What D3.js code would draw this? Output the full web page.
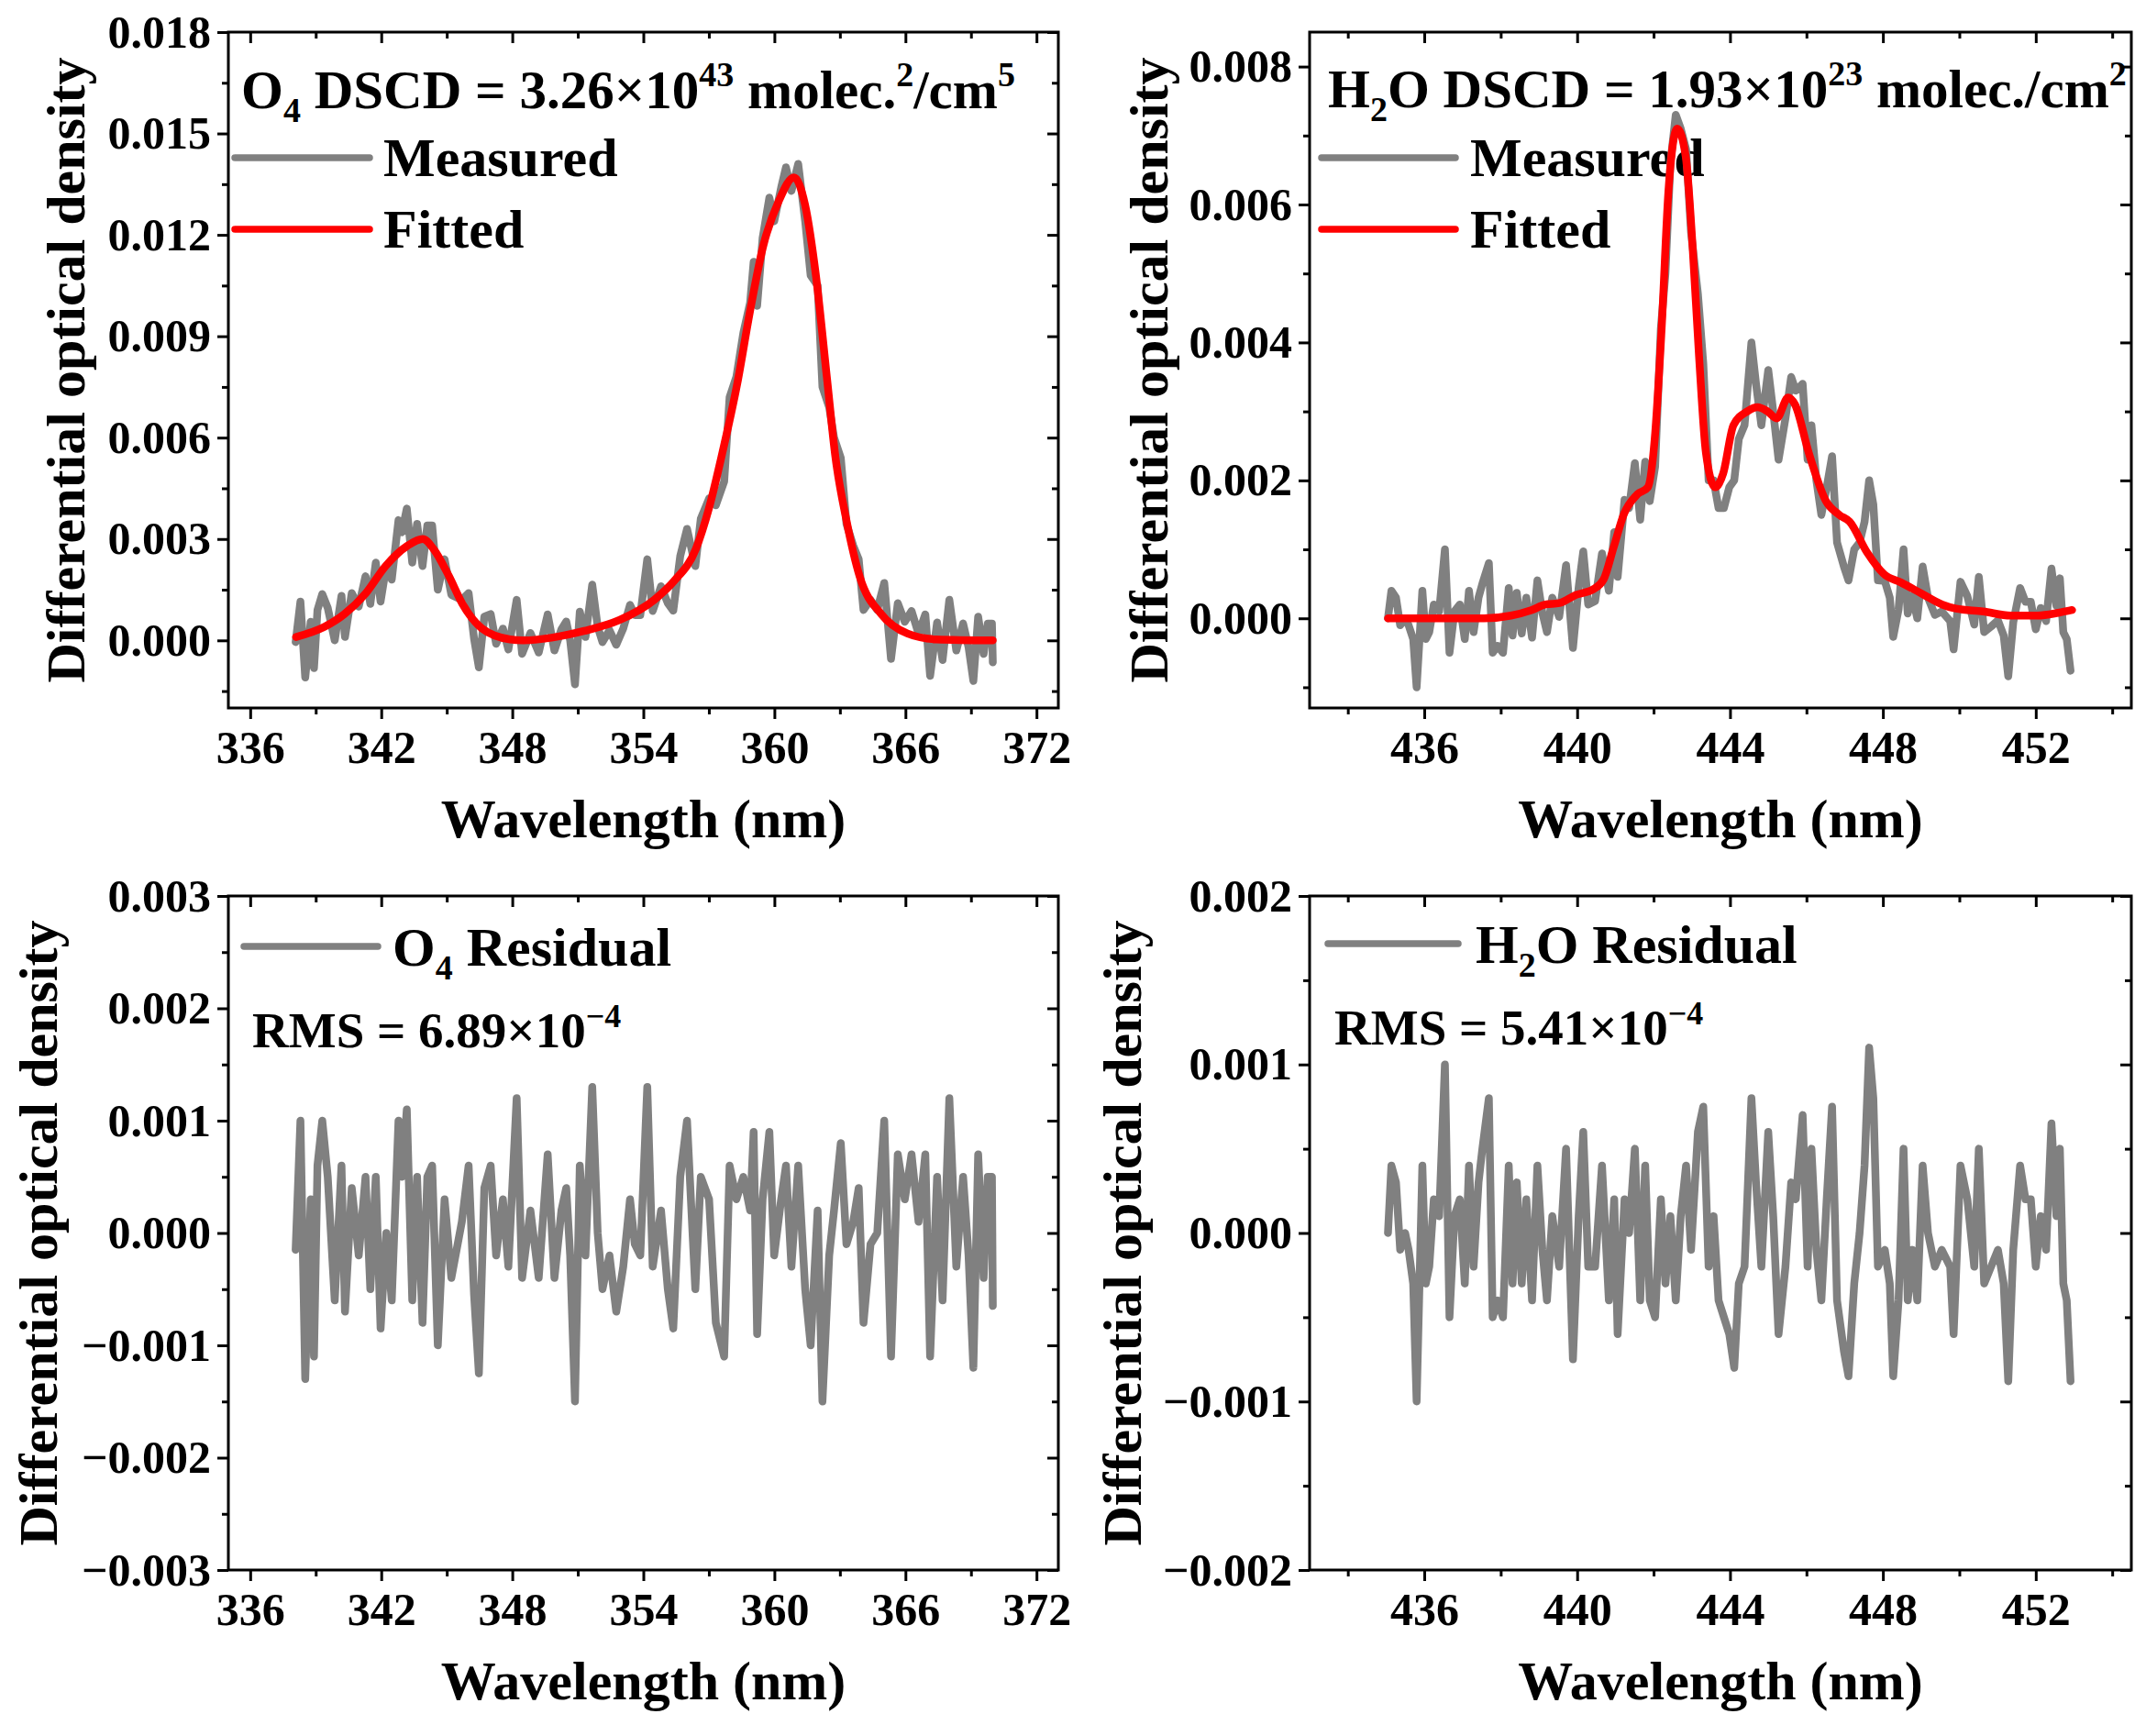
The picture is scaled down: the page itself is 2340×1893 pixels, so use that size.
<!DOCTYPE html>
<html><head><meta charset="utf-8">
<script src="https://cdn.jsdelivr.net/npm/d3@7"></script>
<style>body{margin:0;background:#fff}</style>
</head><body><svg id="c" width="2340" height="1893" style="background:#fff"></svg>
<script>
// ---------- O4 window ----------
const o4Wavelength = [338.08,338.30,338.52,338.77,338.92,339.08,339.30,339.55,339.87,340.18,
340.34,340.65,340.97,341.28,341.50,341.75,341.97,342.23,342.48,342.79,
342.95,343.17,343.42,343.64,343.89,344.11,344.33,344.59,344.90,345.21,
345.69,346.00,346.25,346.47,346.72,347.01,347.26,347.57,347.82,348.20,
348.45,348.83,349.21,349.62,349.93,350.25,350.47,350.65,350.87,351.09,
351.35,351.66,351.91,352.13,352.45,352.76,353.08,353.39,353.61,353.86,
354.18,354.43,354.81,355.12,355.37,355.69,356.00,356.38,356.63,357.01,
357.32,357.70,357.95,358.26,358.58,358.89,359.05,359.21,359.46,359.77,
359.99,360.31,360.53,360.78,361.09,361.41,361.66,361.98,362.20,362.51,
362.73,363.04,363.30,363.61,363.86,364.08,364.40,364.71,365.03,365.34,
365.65,365.97,366.28,366.60,366.91,367.13,367.45,367.70,368.01,368.33,
368.64,368.89,369.11,369.33,369.58,369.77,369.96,370.00];
const o4Measured = [-0.00005,0.00115,-0.0011,0.00055,-0.00082,0.0009,0.00137,0.00096,0.0000,0.00132,
0.0001,0.0014,0.0010,0.0019,0.00108,0.0023,0.00115,0.0022,0.0018,0.00356,
0.0032,0.0039,0.0023,0.00345,0.0022,0.0034,0.0034,0.0015,0.0024,0.00135,
0.0012,0.0014,0.00005,-0.0008,0.0007,0.00078,-0.0001,0.00035,-0.00027,0.0012,
-0.0004,0.00022,-0.00036,0.00077,-0.0003,0.00033,0.00056,0.0000,-0.0013,0.00085,
0.0001,0.00165,0.0004,-0.00005,0.0003,-0.00013,0.00035,0.00105,0.00075,0.00075,
0.0024,0.00087,0.0016,0.0011,0.00088,0.0025,0.0033,0.0022,0.0036,0.0042,
0.0040,0.0047,0.0072,0.0078,0.0091,0.0100,0.0112,0.0099,0.0119,0.0131,
0.0124,0.0134,0.0140,0.0133,0.0141,0.0124,0.0108,0.0105,0.0075,0.0069,
0.0060,0.0054,0.00345,0.0028,0.0024,0.0009,0.0012,0.0009,0.0017,-0.00055,
0.0011,0.00055,0.00087,0.0002,0.00077,-0.00105,0.00053,-0.00058,0.0012,-0.0003,
0.0005,-0.0002,-0.0012,0.0007,-0.0004,0.0005,0.0005,-0.00065];
const o4Residual = [-0.00015,0.0010,-0.0013,0.0003,-0.0011,0.0006,0.0010,0.0005,-0.0006,0.0006,
-0.0007,0.0004,-0.0002,0.0005,-0.0005,0.0005,-0.00085,0.0000,-0.0006,0.0010,
0.0005,0.0011,-0.0006,0.0005,-0.0008,0.0005,0.0006,-0.0010,0.0003,-0.0004,
0.0001,0.0006,-0.00055,-0.00125,0.0004,0.0006,-0.0002,0.0003,-0.0003,0.0012,
-0.0004,0.0002,-0.0004,0.0007,-0.0004,0.0002,0.0004,-0.0002,-0.0015,0.0006,
-0.0002,0.0013,0.0000,-0.0005,-0.0002,-0.0007,-0.0003,0.0003,-0.0001,-0.0002,
0.0013,-0.0003,0.0002,-0.0005,-0.00085,0.0005,0.0010,-0.0005,0.0005,0.0003,
-0.0008,-0.0011,0.0006,0.0003,0.0005,0.0002,0.0009,-0.0009,0.0003,0.0009,
-0.0002,0.0003,0.0006,-0.0003,0.0006,-0.0005,-0.0010,0.0002,-0.0015,-0.0002,
0.0002,0.0008,-0.0001,0.0001,0.0004,-0.0008,-0.0001,0.0000,0.0010,-0.0011,
0.0007,0.0003,0.0007,0.0001,0.0007,-0.0011,0.0005,-0.0006,0.0012,-0.0003,
0.0005,-0.0002,-0.0012,0.0007,-0.0004,0.0005,0.0005,-0.00065];
const o4FitWavelength = [338.1,339.4,340.3,341.3,342.2,343.2,343.9,344.4,345.1,345.7,
346.6,347.9,348.5,349.8,351.3,352.9,354.5,355.4,356.4,357.0,
357.6,358.3,358.9,359.5,360.2,360.9,361.4,361.9,362.4,362.8,
363.3,363.9,364.9,366.1,367.4,370.0];
const o4Fitted = [0.0001,0.0004,0.00077,0.0014,0.0022,0.0028,0.0030,0.0027,0.0019,0.0011,
0.00036,0.00003,0.0,0.00008,0.00028,0.0006,0.0012,0.00175,0.0027,0.0039,
0.0055,0.0076,0.0098,0.0117,0.0130,0.0137,0.0129,0.0108,0.0078,0.0054,
0.00355,0.0019,0.00077,0.0002,0.00003,0.0];

// ---------- H2O window ----------
const h2oWavelength = [435.05,435.14,435.26,435.37,435.50,435.59,435.71,435.80,435.95,436.04,
436.13,436.25,436.39,436.54,436.66,436.79,436.93,437.06,437.17,437.29,
437.42,437.52,437.69,437.79,437.92,438.06,438.21,438.31,438.42,438.55,
438.67,438.82,438.96,439.09,439.21,439.35,439.53,439.71,439.89,440.04,
440.16,440.29,440.47,440.65,440.83,440.97,441.06,441.24,441.36,441.51,
441.65,441.78,441.90,442.04,442.19,442.31,442.44,442.58,442.71,442.85,
442.98,443.16,443.30,443.44,443.57,443.70,443.84,443.98,444.11,444.23,
444.38,444.56,444.68,444.82,445.00,445.13,445.27,445.45,445.60,445.72,
445.90,446.03,446.13,446.26,446.39,446.53,446.67,446.80,446.98,447.10,
447.25,447.39,447.52,447.64,447.75,447.87,448.05,448.18,448.27,448.41,
448.54,448.65,448.77,448.90,449.04,449.18,449.36,449.54,449.76,449.85,
450.03,450.21,450.39,450.51,450.65,450.83,451.01,451.16,451.28,451.41,
451.59,451.73,451.87,452.00,452.13,452.27,452.41,452.54,452.63,452.72,
452.81,452.91];
const h2oMeasured = [0,0.0004,0.0003,-0.0001,0,-0.0001,-0.0003,-0.0010,0.0004,-0.0003,
-0.0002,0.0002,0.0001,0.0010,-0.0005,0.0001,0.0002,-0.0003,0.0004,-0.0002,
0.0003,0.0005,0.0008,-0.0005,-0.0004,-0.0005,0.00044,-0.00025,0.00037,-0.00022,
0.0003,-0.00028,0.00055,0.00008,-0.0002,0.0003,0.00002,0.00077,-0.00043,0.00045,
0.00097,0.0002,0.00025,0.00094,0.0004,0.00125,0.0006,0.00172,0.0016,0.00225,
0.00143,0.00227,0.0017,0.0022,0.0042,0.0050,0.0066,0.0073,0.0071,0.0068,
0.0056,0.0047,0.0037,0.0020,0.0020,0.0016,0.0016,0.0019,0.0020,0.0026,
0.0028,0.0040,0.0034,0.0028,0.0036,0.0030,0.0023,0.0029,0.0035,0.0033,
0.0034,0.0023,0.0028,0.0020,0.0015,0.0019,0.00235,0.0011,0.00075,0.00055,
0.0010,0.0011,0.0014,0.0020,0.00165,0.00055,0.00054,0.0003,-0.00027,0.00013,
0.0010,0.00007,0.00033,0.0,0.00075,0.0003,0.00005,0.0001,-0.00004,-0.00045,
0.00053,0.00032,-0.00009,0.0006,-0.0002,-0.00012,-0.00003,-0.00025,-0.00084,-0.00006,
0.00044,0.00024,0.00024,-0.00016,0.00015,-0.00004,0.00072,0.00018,0.00058,-0.0002,
-0.0003,-0.00076];
const h2oResidual = [0,0.0004,0.0003,-0.0001,0,-0.0001,-0.0003,-0.0010,0.0004,-0.0003,
-0.0002,0.0002,0.0001,0.0010,-0.0005,0.0001,0.0002,-0.0003,0.0004,-0.0002,
0.0003,0.0005,0.0008,-0.0005,-0.0004,-0.0005,0.0004,-0.0003,0.0003,-0.0003,
0.0002,-0.0004,0.0004,-0.0001,-0.0004,0.0001,-0.0002,0.0005,-0.00075,0.0001,
0.0006,-0.0002,-0.0002,0.0004,-0.0004,0.0002,-0.0006,0.0002,0.0000,0.0005,
-0.0004,0.0004,-0.0004,-0.0005,0.0002,-0.0003,0.0001,-0.0004,0.0001,0.0004,
-0.0001,0.0006,0.00075,-0.0002,0.0001,-0.0004,-0.0005,-0.0006,-0.0008,-0.0003,
-0.0002,0.0008,0.0003,-0.0002,0.0006,0.0001,-0.0006,-0.0002,0.0003,0.0002,
0.0007,-0.0002,0.0005,-0.0001,-0.0004,0.0002,0.00075,-0.0004,-0.0007,-0.00085,
-0.0003,0.0000,0.0004,0.0011,0.0008,-0.0002,-0.0001,-0.0003,-0.00085,-0.0004,
0.0005,-0.0004,-0.0001,-0.0004,0.0004,0.0000,-0.0002,-0.0001,-0.0002,-0.0006,
0.0004,0.0002,-0.0002,0.0005,-0.0003,-0.0002,-0.0001,-0.0003,-0.00088,-0.0001,
0.0004,0.0002,0.0002,-0.0002,0.0001,-0.0001,0.00065,0.0001,0.0005,-0.0003,
-0.0004,-0.00088];
const h2oFitWavelength = [435.05,437.56,438.27,438.81,439.17,439.53,439.97,440.42,440.69,440.96,
441.23,441.58,441.85,442.03,442.21,442.39,442.62,442.84,443.02,443.19,
443.37,443.61,443.82,444.09,444.45,444.72,444.98,445.22,445.52,445.70,
446.06,446.51,446.86,447.13,447.58,448.03,448.47,449.01,449.55,449.91,
450.62,451.34,452.05,452.59,452.95];
const h2oFitted = [0,0,0.00004,0.00012,0.0002,0.00022,0.00034,0.00042,0.00056,0.00104,
0.00152,0.0018,0.0019,0.0026,0.0042,0.0062,0.0071,0.0067,0.0054,0.0038,
0.0024,0.0019,0.0021,0.0028,0.0030,0.00306,0.0030,0.0029,0.0032,0.0031,
0.0024,0.0017,0.0015,0.0014,0.00096,0.00064,0.00052,0.00036,0.0002,0.00014,
0.0001,0.00004,0.00004,0.00008,0.00012];

// ---------- ticks ----------
const o4XTicks = [336,342,348,354,360,366,372];
const o4XMinor = [339,345,351,357,363,369];
const h2oXTicks = [436,440,444,448,452];
const h2oXMinor = [434,438,442,446,450,454];
const o4YTicks = [0,0.003,0.006,0.009,0.012,0.015,0.018];
const o4YMinor = [-0.0015,0.0015,0.0045,0.0075,0.0105,0.0135,0.0165];
const h2oYTicks = [0,0.002,0.004,0.006,0.008];
const h2oYMinor = [-0.001,0.001,0.003,0.005,0.007];
const o4ResYTicks = [-0.003,-0.002,-0.001,0,0.001,0.002,0.003];
const o4ResYMinor = [-0.0025,-0.0015,-0.0005,0.0005,0.0015,0.0025];
const h2oResYTicks = [-0.002,-0.001,0,0.001,0.002];
const h2oResYMinor = [-0.0015,-0.0005,0.0005,0.0015];

const GRAY = '#808080', RED = '#ff0000';
const FONT = '"Liberation Serif","Times New Roman",serif';
const DATA_W = 8.5, LEGEND_W = 7.5;
const svg = d3.select('#c');
svg.append('rect').attr('width',2340).attr('height',1893).attr('fill','#fff');

function fmt(v){
  const s = Math.abs(v).toFixed(3);
  return (v < -1e-12 ? '\u2212' : '') + s;
}

function rich(g, x, y, parts, size, small){
  const t = g.append('text').attr('x', x).attr('y', y)
    .attr('font-family', FONT).attr('font-weight','bold').attr('font-size', size).attr('fill','#000');
  let shift = 0;
  parts.forEach(p => {
    const want = p.sub ? small.sub : (p.sup ? -small.sup : 0);
    const ts = t.append('tspan').text(p.t).attr('dy', want - shift);
    if (p.sub || p.sup) ts.attr('font-size', small.size);
    shift = want;
  });
  return t;
}

function styleAxis(sel, labels){
  sel.select('.domain').remove();
  sel.selectAll('line').attr('stroke','#000').attr('stroke-width',3);
  sel.selectAll('text').attr('font-family',FONT).attr('font-weight','bold')
    .attr('font-size',50).attr('fill','#000');
  if(!labels) sel.selectAll('text').remove();
}

function panel(cfg){
  const x = d3.scaleLinear().domain(cfg.xDomain).range([cfg.left, cfg.right]);
  const y = d3.scaleLinear().domain(cfg.yDomain).range([cfg.bottom, cfg.top]);
  const g = svg.append('g');

  cfg.texts(g);
  cfg.legend.forEach(L => {
    g.append('line').attr('x1',L.x1).attr('x2',L.x2).attr('y1',L.y).attr('y2',L.y)
      .attr('stroke',L.color).attr('stroke-width',LEGEND_W).attr('stroke-linecap','round');
  });

  cfg.series.forEach(s => {
    const line = d3.line()
      .x((d,i) => x(s.x[i]))
      .y((d,i) => y(s.y[i]))
      .curve(s.smooth ? d3.curveMonotoneX : d3.curveLinear);
    g.append('path').datum(s.y).attr('d', line).attr('fill','none')
      .attr('stroke', s.color).attr('stroke-width', DATA_W)
      .attr('stroke-linejoin','round').attr('stroke-linecap','round');
  });

  const ax = (gen, tr, labels) => {
    const a = g.append('g').attr('transform', tr).call(gen);
    styleAxis(a, labels);
    return a;
  };
  const xm = cfg.xMinor.filter(v => v > cfg.xDomain[0] && v < cfg.xDomain[1]);
  ax(d3.axisBottom(x).tickValues(cfg.xTicks).tickSize(12).tickSizeOuter(0).tickPadding(12).tickFormat(d3.format('d')),
     `translate(0,${cfg.bottom})`, true);
  ax(d3.axisBottom(x).tickValues(xm).tickSize(7).tickSizeOuter(0), `translate(0,${cfg.bottom})`, false);
  ax(d3.axisTop(x).tickValues(cfg.xTicks).tickSize(-12).tickSizeOuter(0), `translate(0,${cfg.top})`, false);
  ax(d3.axisTop(x).tickValues(xm).tickSize(-7).tickSizeOuter(0), `translate(0,${cfg.top})`, false);
  ax(d3.axisLeft(y).tickValues(cfg.yTicks).tickSize(12).tickSizeOuter(0).tickPadding(7).tickFormat(fmt),
     `translate(${cfg.left},0)`, true);
  ax(d3.axisLeft(y).tickValues(cfg.yMinor).tickSize(7).tickSizeOuter(0), `translate(${cfg.left},0)`, false);
  ax(d3.axisRight(y).tickValues(cfg.yTicks).tickSize(-12).tickSizeOuter(0), `translate(${cfg.right},0)`, false);
  ax(d3.axisRight(y).tickValues(cfg.yMinor).tickSize(-7).tickSizeOuter(0), `translate(${cfg.right},0)`, false);

  g.append('rect').attr('x',cfg.left).attr('y',cfg.top)
    .attr('width',cfg.right-cfg.left).attr('height',cfg.bottom-cfg.top)
    .attr('fill','none').attr('stroke','#000').attr('stroke-width',3);

  g.append('text').attr('x',(cfg.left+cfg.right)/2).attr('y',cfg.bottom+141)
    .attr('text-anchor','middle').attr('font-family',FONT).attr('font-weight','bold')
    .attr('font-size',60).text('Wavelength (nm)');
  g.append('text').attr('transform',`translate(${cfg.yTitleX},${(cfg.top+cfg.bottom)/2}) rotate(-90)`)
    .attr('text-anchor','middle').attr('font-family',FONT).attr('font-weight','bold')
    .attr('font-size',60).text('Differential optical density');
}

const SUPSUB = {size:38, sub:15, sup:24};
const legendText = (g, x, y, parts) => rich(g, x, y, parts, 60, SUPSUB);

panel({
  left:249, right:1154, top:35, bottom:772,
  xDomain:[335,373], yDomain:[-0.002,0.018],
  xTicks:o4XTicks, xMinor:o4XMinor, yTicks:o4YTicks, yMinor:o4YMinor,
  yTitleX:92,
  series:[{x:o4Wavelength, y:o4Measured, color:GRAY},
          {x:o4FitWavelength, y:o4Fitted, color:RED, smooth:true}],
  legend:[{x1:256,x2:403,y:172,color:GRAY},{x1:256,x2:403,y:250,color:RED}],
  texts:g => {
    rich(g, 263, 118, [{t:'O'},{t:'4',sub:true},{t:' DSCD = 3.26\u00d710'},{t:'43',sup:true},
      {t:' molec.'},{t:'2',sup:true},{t:'/cm'},{t:'5',sup:true}], 59, SUPSUB);
    legendText(g, 418, 192, [{t:'Measured'}]);
    legendText(g, 418, 270, [{t:'Fitted'}]);
  }
});

panel({
  left:1428, right:2324, top:35, bottom:772,
  xDomain:[433,454.5], yDomain:[-0.0013,0.0085],
  xTicks:h2oXTicks, xMinor:h2oXMinor, yTicks:h2oYTicks, yMinor:h2oYMinor,
  yTitleX:1273,
  series:[{x:h2oWavelength, y:h2oMeasured, color:GRAY},
          {x:h2oFitWavelength, y:h2oFitted, color:RED, smooth:true}],
  legend:[{x1:1441,x2:1587,y:172,color:GRAY},{x1:1441,x2:1587,y:250,color:RED}],
  texts:g => {
    rich(g, 1448, 117, [{t:'H'},{t:'2',sub:true},{t:'O DSCD = 1.93\u00d710'},{t:'23',sup:true},
      {t:' molec./cm'},{t:'2',sup:true}], 59, SUPSUB);
    legendText(g, 1603, 192, [{t:'Measured'}]);
    legendText(g, 1603, 270, [{t:'Fitted'}]);
  }
});

panel({
  left:249, right:1154, top:977, bottom:1712,
  xDomain:[335,373], yDomain:[-0.003,0.003],
  xTicks:o4XTicks, xMinor:o4XMinor, yTicks:o4ResYTicks, yMinor:o4ResYMinor,
  yTitleX:62,
  series:[{x:o4Wavelength, y:o4Residual, color:GRAY}],
  legend:[{x1:266,x2:412,y:1032,color:GRAY}],
  texts:g => {
    legendText(g, 428, 1053, [{t:'O'},{t:'4',sub:true},{t:' Residual'}]);
    rich(g, 275, 1142, [{t:'RMS = 6.89\u00d710'},{t:'\u22124',sup:true}], 55, {size:36, sub:14, sup:22});
  }
});

panel({
  left:1428, right:2324, top:977, bottom:1712,
  xDomain:[433,454.5], yDomain:[-0.002,0.002],
  xTicks:h2oXTicks, xMinor:h2oXMinor, yTicks:h2oResYTicks, yMinor:h2oResYMinor,
  yTitleX:1244,
  series:[{x:h2oWavelength, y:h2oResidual, color:GRAY}],
  legend:[{x1:1448,x2:1590,y:1029,color:GRAY}],
  texts:g => {
    legendText(g, 1609, 1050, [{t:'H'},{t:'2',sub:true},{t:'O Residual'}]);
    rich(g, 1455, 1139, [{t:'RMS = 5.41\u00d710'},{t:'\u22124',sup:true}], 55, {size:36, sub:14, sup:22});
  }
});
</script>
</body></html>
